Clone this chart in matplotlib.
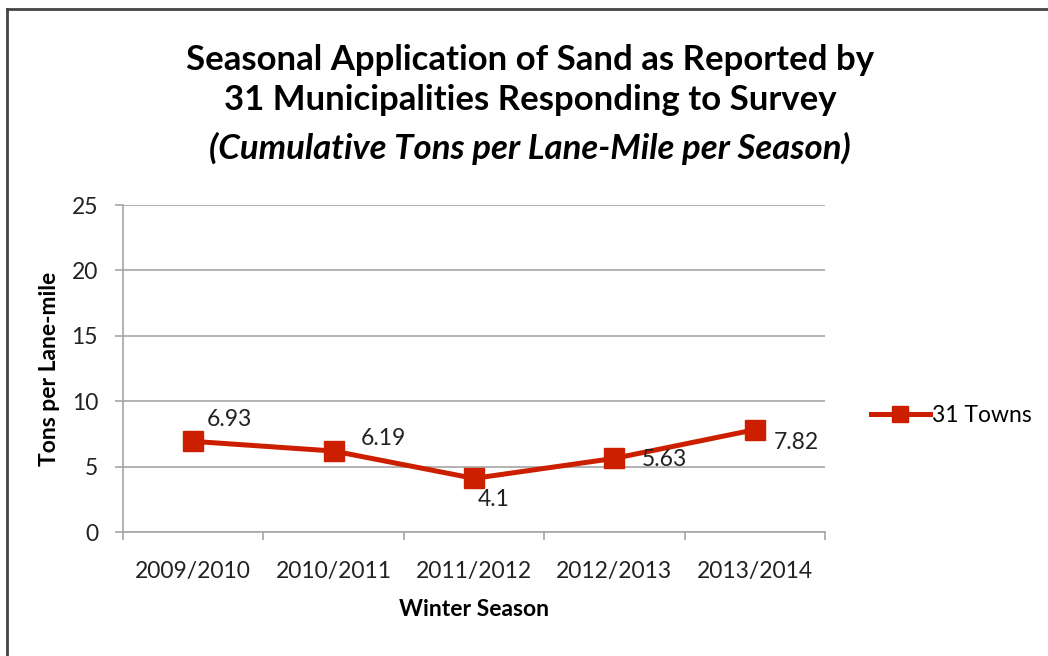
import matplotlib.pyplot as plt
from matplotlib.lines import Line2D

plt.rcParams['font.family'] = ['Lato', 'DejaVu Sans']

seasons = ['2009/2010', '2010/2011', '2011/2012', '2012/2013', '2013/2014']
tons = [6.93, 6.19, 4.1, 5.63, 7.82]
labels = ['6.93', '6.19', '4.1', '5.63', '7.82']
series_name = '31 Towns'

red = '#CC1F00'
grey = '#A6A6A6'
txt = '#222222'
fs = 16.5

fig = plt.figure(figsize=(10.48, 6.56), dpi=100)
ax = fig.add_axes([0.1174, 0.189, 0.6698, 0.4985])

x = list(range(len(seasons)))
ax.plot(x, tons, color=red, lw=3.6, marker='s', ms=14, mec=red, mfc=red,
        solid_joinstyle='round', label=series_name, zorder=3)

# label offsets in points
offs = [(26, 16), (36, 9), (14, -15), (36, -1), (30, -9)]
for xi, yi, lab, o in zip(x, tons, labels, offs):
    ax.annotate(lab, (xi, yi), xytext=o, textcoords='offset points',
                ha='center', va='center', fontsize=fs, color=txt)

ax.set_xlim(-0.5, 4.5)
ax.set_ylim(0, 25)
ax.set_yticks([0, 5, 10, 15, 20, 25])
ax.yaxis.grid(True, color=grey, lw=1.2)
ax.set_axisbelow(True)

ax.set_xticks(x)
ax.set_xticklabels(seasons, fontsize=fs, color=txt)
ax.set_xticks([i - 0.5 for i in range(len(seasons) + 1)], minor=True)
ax.tick_params(axis='x', which='major', length=0, pad=21)
ax.tick_params(axis='x', which='minor', length=6, width=1.2, color=grey, direction='out')
ax.tick_params(axis='y', length=6, width=1.2, color=grey, pad=12, labelsize=fs,
               labelcolor=txt)

for s in ['top', 'right']:
    ax.spines[s].set_visible(False)
for s in ['left', 'bottom']:
    ax.spines[s].set_color(grey)
    ax.spines[s].set_linewidth(1.2)

ax.set_xlabel('Winter Season', fontsize=fs, fontweight='bold', labelpad=12)
ax.set_ylabel('Tons per Lane-mile', fontsize=fs, fontweight='bold', labelpad=8)

fig.text(0.506, 0.908, 'Seasonal Application of Sand as Reported by', ha='center',
         va='center', fontsize=25, fontweight='bold')
fig.text(0.506, 0.847, '31 Municipalities Responding to Survey', ha='center',
         va='center', fontsize=25, fontweight='bold')
fig.text(0.506, 0.774, '(Cumulative Tons per Lane-Mile per Season)', ha='center',
         va='center', fontsize=25, fontweight='bold', style='italic')

handle = Line2D([], [], color=red, lw=3.6, marker='s', ms=12)
fig.legend([handle], [series_name], loc='center left', bbox_to_anchor=(0.811, 0.366),
           frameon=False, fontsize=fs, handlelength=2.6, handletextpad=0.1)

# partial frame like the screenshot
fig.add_artist(Line2D([0.0067, 0.0067], [0.0, 0.986], color='#444444', lw=2,
                      transform=fig.transFigure))
fig.add_artist(Line2D([0.0067, 1.0], [0.986, 0.986], color='#444444', lw=2,
                      transform=fig.transFigure))

fig.savefig('out.png', dpi=100)
